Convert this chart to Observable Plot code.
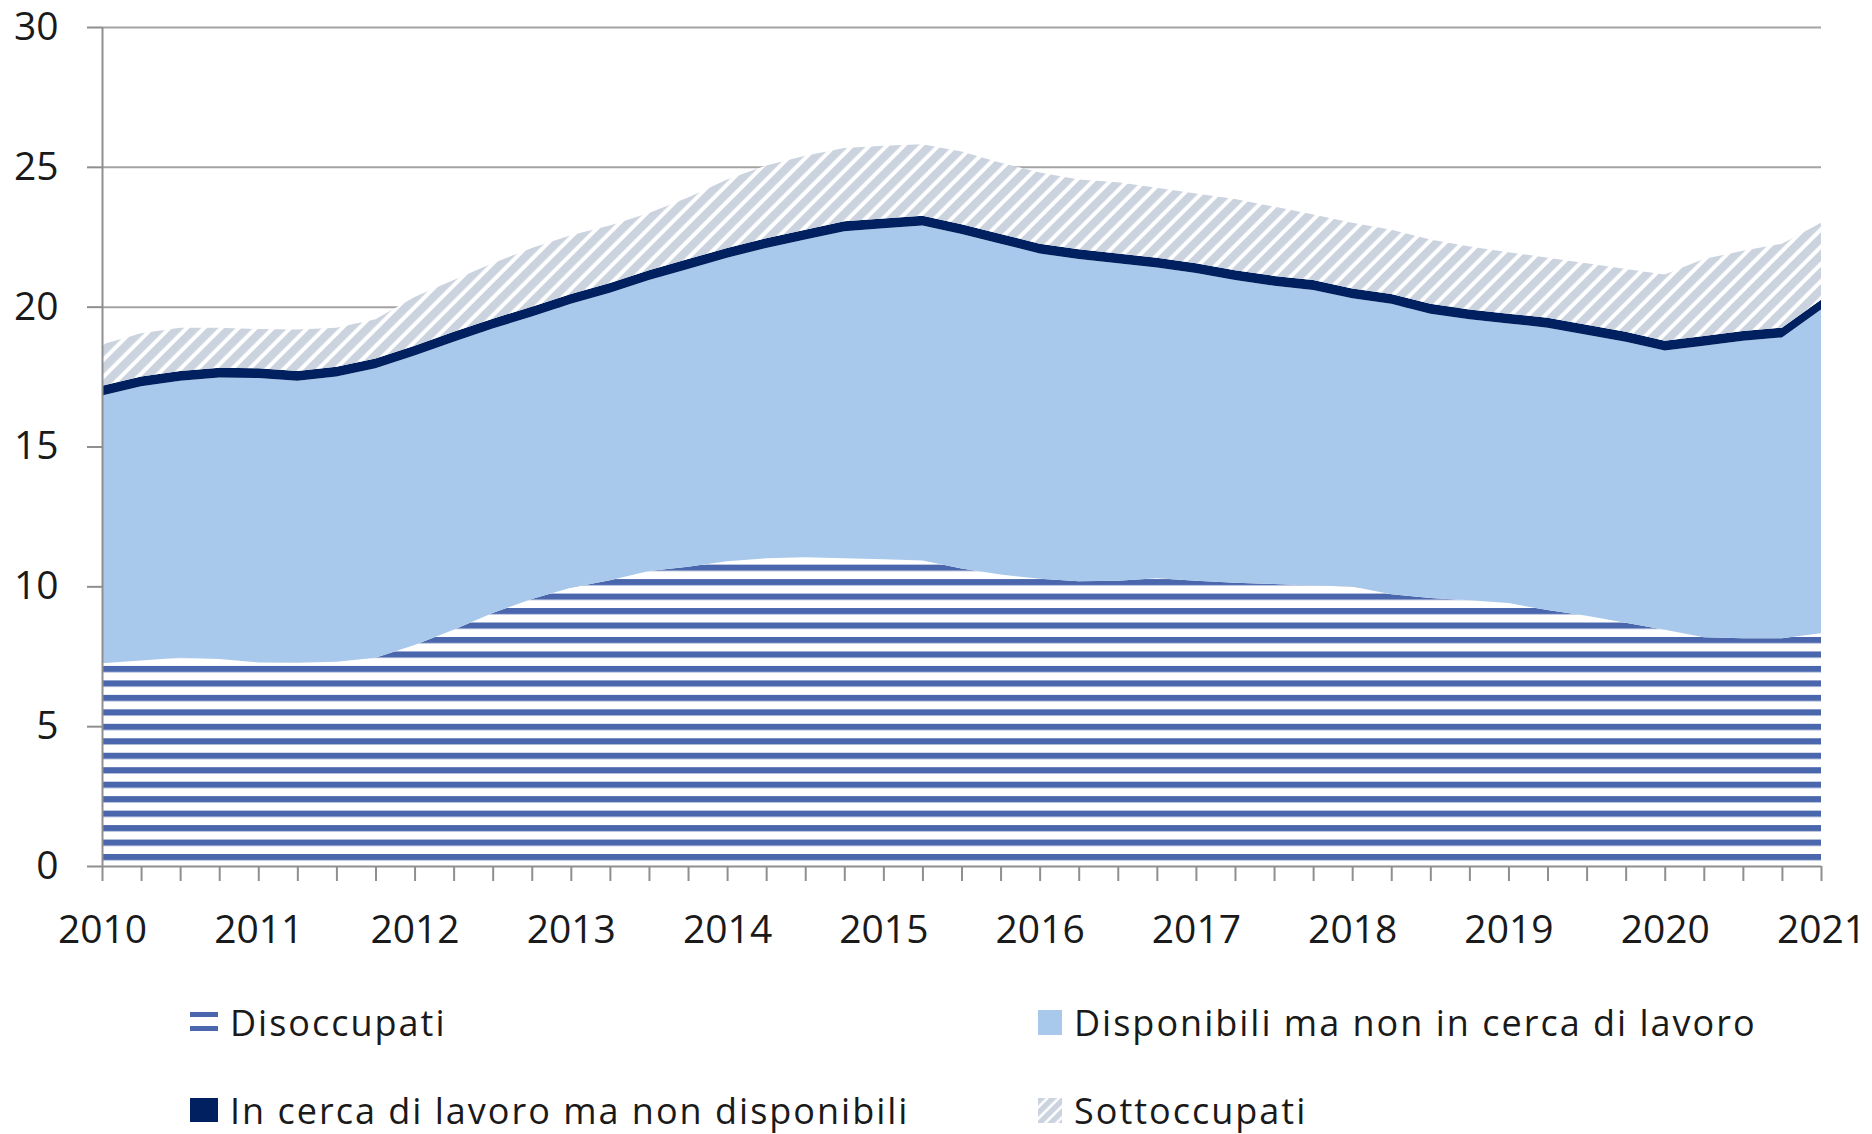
<!DOCTYPE html>
<html>
<head>
<meta charset="utf-8">
<script src="https://cdn.jsdelivr.net/npm/d3@7"></script>
<script src="https://cdn.jsdelivr.net/npm/@observablehq/plot@0.6"></script>
<style>
  html, body { margin: 0; padding: 0; background: #fff; }
  #wrap { position: relative; width: 1872px; height: 1134px; font-family: "Open Sans", sans-serif; color: #1a1a1a; }
  .leg { position: absolute; display: flex; align-items: center; font-size: 36px; letter-spacing: 2px; white-space: nowrap; }
  .leg svg { margin-right: 12px; }
</style>
</head>
<body>
<div id="wrap"></div>
<script>
// Quarterly categories (Italian trimestri)
const quarters = [
  "2010 T1","2010 T2","2010 T3","2010 T4","2011 T1","2011 T2","2011 T3","2011 T4",
  "2012 T1","2012 T2","2012 T3","2012 T4","2013 T1","2013 T2","2013 T3","2013 T4",
  "2014 T1","2014 T2","2014 T3","2014 T4","2015 T1","2015 T2","2015 T3","2015 T4",
  "2016 T1","2016 T2","2016 T3","2016 T4","2017 T1","2017 T2","2017 T3","2017 T4",
  "2018 T1","2018 T2","2018 T3","2018 T4","2019 T1","2019 T2","2019 T3","2019 T4",
  "2020 T1","2020 T2","2020 T3","2020 T4","2021 T1"
];
const yearLabels = [2010,2011,2012,2013,2014,2015,2016,2017,2018,2019,2020,2021];
const yTicks = [0,5,10,15,20,25,30];

const seriesNames = [
  "Disoccupati",
  "Disponibili ma non in cerca di lavoro",
  "In cerca di lavoro ma non disponibili",
  "Sottoccupati"
];

const disoccupati = [7.25,7.35,7.45,7.4,7.28,7.27,7.3,7.45,7.9,8.45,9.05,9.55,9.95,10.22,10.55,10.7,
  10.9,11.0,11.04,11.0,10.97,10.92,10.64,10.42,10.27,10.18,10.2,10.29,10.2,10.13,10.08,10.03,
  9.99,9.72,9.58,9.5,9.4,9.15,8.95,8.7,8.45,8.18,8.14,8.14,8.32];
const disponibili = [9.57,9.80,9.90,10.07,10.17,10.08,10.20,10.35,10.35,10.30,10.17,10.10,10.15,10.28,10.40,10.65,
  10.85,11.10,11.36,11.70,11.83,11.98,11.96,11.83,11.63,11.52,11.35,11.11,11.00,10.82,10.67,10.57,
  10.31,10.38,10.17,10.05,10.00,10.10,10.05,10.05,9.98,10.42,10.64,10.76,11.58];
const inCerca = [0.35,0.35,0.35,0.35,0.35,0.35,0.35,0.35,0.35,0.35,0.35,0.35,0.35,0.35,0.35,0.35,
  0.35,0.35,0.35,0.35,0.35,0.35,0.35,0.35,0.35,0.35,0.35,0.35,0.35,0.35,0.35,0.35,
  0.35,0.35,0.35,0.35,0.35,0.35,0.35,0.35,0.35,0.35,0.35,0.35,0.35];
const sottoccupati = [1.48,1.55,1.55,1.43,1.40,1.48,1.40,1.40,1.75,1.85,1.98,2.10,2.10,2.05,2.05,2.20,
  2.45,2.60,2.65,2.62,2.60,2.56,2.60,2.55,2.55,2.50,2.55,2.50,2.50,2.55,2.48,2.35,
  2.35,2.30,2.30,2.25,2.20,2.15,2.20,2.25,2.37,2.75,2.87,3.00,2.75];

const fills = ["url(#pStripes)", "#a9c9ec", "#002060", "url(#pHatch)"];

const qPos = quarters.map(q => { const [y, t] = q.split(" T"); return +y + (+t - 1) / 4; });
const valuesBySeries = [disoccupati, disponibili, inCerca, sottoccupati];
const data = [];
seriesNames.forEach((s, k) => valuesBySeries[k].forEach((v, i) => data.push({q: qPos[i], s, v})));

const grey = "#8f8f8f";
const svg = Plot.plot({
  width: 1872,
  height: 960,
  marginLeft: 102,
  marginRight: 51,
  marginTop: 27,
  marginBottom: 94,
  style: {fontFamily: "Open Sans, sans-serif", background: "white", color: "#1a1a1a", overflow: "visible"},
  x: {domain: [2010, 2021], label: null},
  y: {domain: [0, 30], label: null},
  color: {domain: seriesNames, range: fills},
  marks: [
    Plot.ruleY(yTicks.filter(d => d > 0), {stroke: "#a3a3a3", strokeWidth: 2}),
    Plot.areaY(data, {x: "q", y: "v", z: "s", fill: "s", order: seriesNames}),
    Plot.ruleX([2010], {stroke: grey, strokeWidth: 2}),
    Plot.ruleY([0], {stroke: grey, strokeWidth: 2}),
    Plot.axisY({ticks: yTicks, label: null, tickSize: 15, tickPadding: 29, fontSize: 39, stroke: grey, strokeWidth: 2, tickFormat: d => String(d)}),
    Plot.axisX({ticks: qPos, label: null, tickSize: 15, stroke: grey, strokeWidth: 2, tickFormat: () => ""}),
    Plot.axisX({ticks: yearLabels, label: null, tickSize: 0, tickPadding: 49, fontSize: 39, tickFormat: d => String(d)})
  ]
});

const ns = "http://www.w3.org/2000/svg";
const defs = document.createElementNS(ns, "defs");
defs.innerHTML = `
  <pattern id="pStripes" patternUnits="userSpaceOnUse" x="0" y="0.3" width="20" height="14.47">
    <rect x="0" y="0" width="20" height="14.47" fill="#ffffff"/>
    <rect x="0" y="0" width="20" height="6.2" fill="#4a66ac"/>
  </pattern>
  <pattern id="pHatch" patternUnits="userSpaceOnUse" width="12.2" height="12.2" patternTransform="rotate(45)">
    <rect x="0" y="0" width="12.2" height="12.2" fill="#ffffff"/>
    <rect x="0" y="0" width="8.2" height="12.2" fill="#cbd3df"/>
  </pattern>`;
svg.insertBefore(defs, svg.firstChild);

const wrap = document.getElementById("wrap");
wrap.appendChild(svg);

// Legend (HTML, below the SVG)
const swatches = [
  `<svg width="28" height="20"><rect x="0" y="0" width="28" height="5" fill="#4a66ac"/><rect x="0" y="14" width="28" height="5" fill="#4a66ac"/></svg>`,
  `<svg width="24" height="25"><rect width="24" height="25" fill="#a9c9ec"/></svg>`,
  `<svg width="28" height="24"><rect width="28" height="24" fill="#002060"/></svg>`,
  `<svg width="24" height="25"><defs><pattern id="lh" patternUnits="userSpaceOnUse" width="8" height="8" patternTransform="rotate(45)"><rect width="8" height="8" fill="#fff"/><rect width="5.5" height="8" fill="#cbd3df"/></pattern></defs><rect width="24" height="25" fill="url(#lh)"/></svg>`
];
const legPos = [
  {x: 190, y: 1022}, {x: 1038, y: 1022},
  {x: 190, y: 1110}, {x: 1038, y: 1110}
];
seriesNames.forEach((name, k) => {
  const d = document.createElement("div");
  d.className = "leg";
  d.style.left = legPos[k].x + "px";
  d.style.top = (legPos[k].y - 25) + "px";
  d.style.height = "50px";
  d.innerHTML = swatches[k] + `<span>${name}</span>`;
  wrap.appendChild(d);
});
</script>
</body>
</html>
